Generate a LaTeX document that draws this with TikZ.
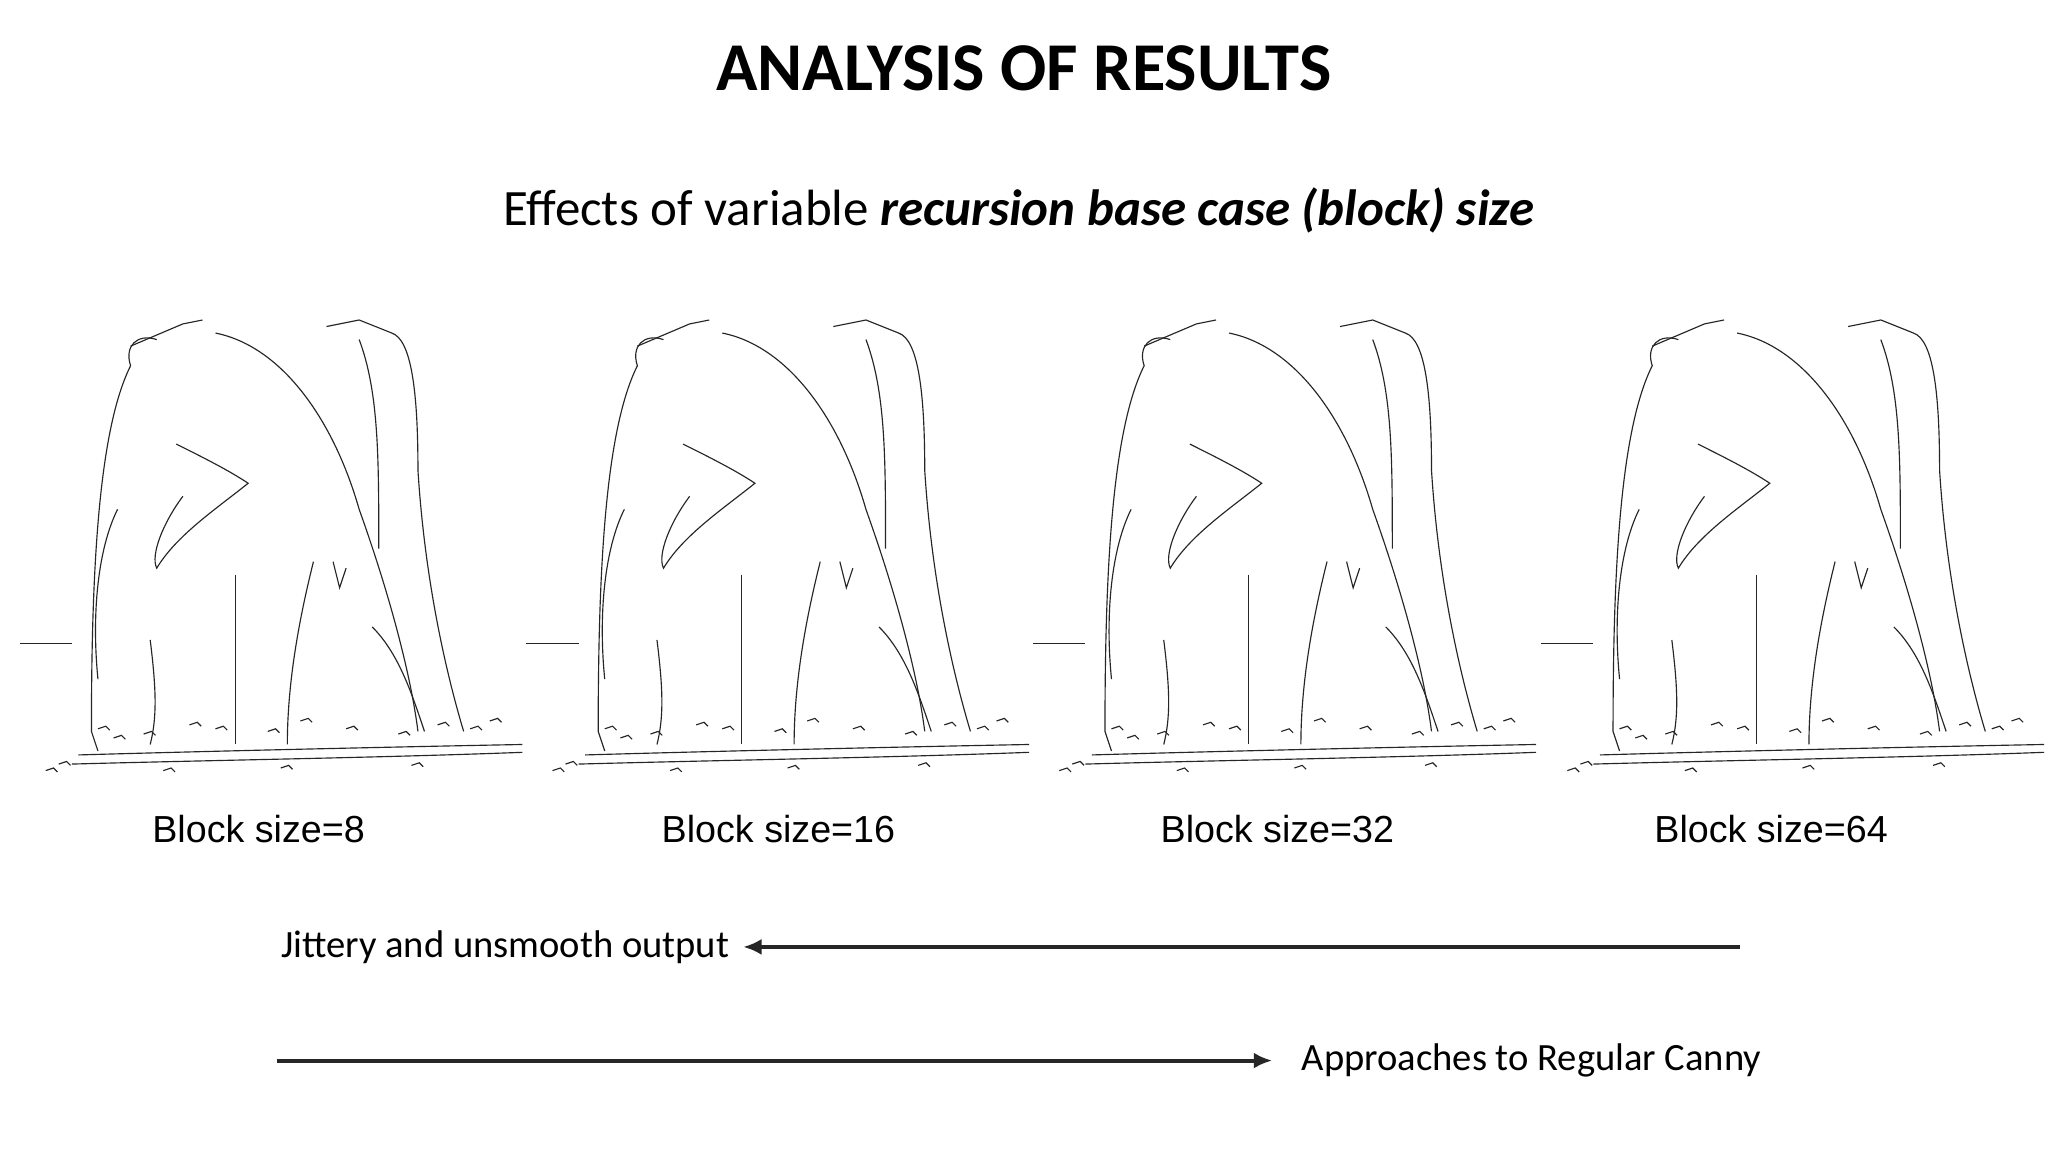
\documentclass[tikz,border=0pt]{standalone}
\usepackage{fontspec}
\setmainfont{Carlito}
\newfontfamily\arialfont{Liberation Sans}
\usetikzlibrary{arrows.meta}
\tikzset{
  edge/.style={draw=black!85, line width=0.25pt},
  lbl/.style={font=\arialfont\fontsize{8.2}{10}\selectfont, inner sep=0pt},
  txt/.style={font=\fontsize{8.4}{10}\selectfont, inner sep=0pt},
  arr/.style={line width=0.85pt, draw=black!85, -{Latex[length=4pt,width=3.5pt]}},
  pics/penguins/.style={code={
    \draw[edge] (0,253) -- (40,253);
    \draw[edge] (45,338) .. controls (150,335) and (280,332) .. (385,330);
    \draw[edge] (40,345) .. controls (150,342) and (280,340) .. (385,336);
    \draw[edge] (105,20) .. controls (90,15) and (80,25) .. (85,40)
      .. controls (60,90) and (55,200) .. (55,320) -- (60,335);
    \draw[edge] (85,25) -- (125,8) -- (140,5);
    \draw[edge] (150,15) .. controls (200,25) and (240,80) .. (260,150)
      .. controls (285,220) and (300,280) .. (305,320);
    \draw[edge] (120,100) .. controls (140,110) and (160,120) .. (175,130)
      .. controls (150,150) and (120,170) .. (105,195) .. controls (100,185) and (110,160) .. (125,140);
    \draw[edge] (165,200) -- (165,330);
    \draw[edge] (75,150) .. controls (60,180) and (55,230) .. (60,280);
    \draw[edge] (100,250) .. controls (105,290) and (105,310) .. (100,330);
    \draw[edge] (235,10) -- (260,5) -- (285,15) .. controls (300,20) and (305,60) .. (305,120)
      .. controls (310,200) and (325,270) .. (340,320);
    \draw[edge] (260,20) .. controls (275,60) and (275,110) .. (275,180);
    \draw[edge] (225,190) .. controls (215,230) and (205,280) .. (205,330);
    \draw[edge] (240,190) -- (245,210) -- (250,195);
    \draw[edge] (270,240) .. controls (290,260) and (300,290) .. (310,320);
    \foreach \x/\y in {60/318,72/325,95/322,130/315,150/318,190/320,215/312,250/318,290/322,320/315,345/318,360/312,30/345,20/350,110/350,200/348,300/346}
      \draw[edge] (\x,\y) -- ++(6,-2) -- ++(3,3);
  }}
}
\begin{document}
\begin{tikzpicture}[x=0.01cm,y=-0.01cm]
\useasboundingbox (0,0) rectangle (1568,882);
\fill[white] (0,0) rectangle (1568,882);
\node[font=\bfseries\fontsize{14.9}{18}\selectfont] (title) at (784,52) {ANALYSIS OF RESULTS};
\node[font=\fontsize{11.1}{13}\selectfont] (sub) at (780,161) {Effects of variable \textbf{\textit{recursion base case (block) size}}};
\foreach \i/\ox in {1/15,2/403,3/791,4/1180}
  \pic at (\ox,240) {penguins};
\node[lbl] (b8) at (198,635) {Block size=8};
\node[lbl] (b16) at (596,635) {Block size=16};
\node[lbl] (b32) at (978,635) {Block size=32};
\node[lbl] (b64) at (1356,635) {Block size=64};
\node[txt, anchor=east] (jit) at (559,725) {Jittery and unsmooth output};
\coordinate (jstart) at (1332,725);
\coordinate (jend) at (569,725);
\draw[arr] (jstart) -- (jend);
\node[txt, anchor=west] (app) at (996,812) {Approaches to Regular Canny};
\coordinate (astart) at (212,812);
\coordinate (aend) at (974,812);
\draw[arr] (astart) -- (aend);
\end{tikzpicture}
\end{document}
